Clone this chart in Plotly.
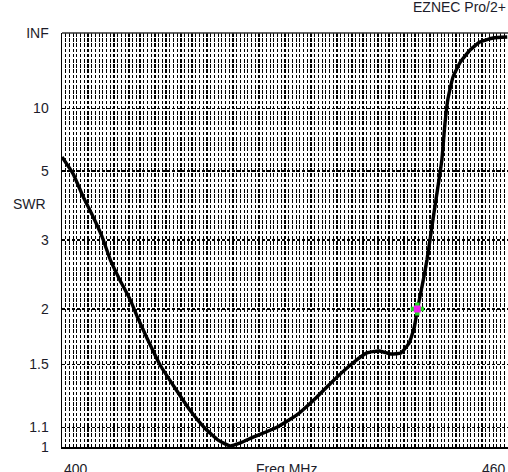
import plotly.graph_objects as go

# ---- data ----
freq_mhz = [400.0, 401.5, 402.8, 404.2, 405.4, 406.5, 407.8, 409.2, 410.2, 411.3,
            413.2, 415.2, 417.2, 419.2, 421.0, 422.6, 424.0, 425.8, 428.7, 431.6,
            434.3, 437.0, 439.3, 441.0, 442.7, 444.3, 445.6, 446.7, 447.4, 447.8,
            448.6, 449.1, 450.0, 451.1, 451.5, 451.9, 452.6, 453.6, 454.9, 456.2,
            458.0, 459.9]
swr = [5.68, 4.88, 4.08, 3.50, 3.06, 2.65, 2.35, 2.10, 1.905, 1.733,
       1.494, 1.332, 1.196, 1.096, 1.034, 1.005, 1.02, 1.05, 1.096, 1.168,
       1.275, 1.407, 1.517, 1.588, 1.604, 1.579, 1.588, 1.671, 1.816, 1.989,
       2.35, 2.65, 3.55, 5.52, 8.0, 11.4, 17.8, 27.6, 47.7, 91.0,
       164.0, 205.0]

marker_freq = [447.8]
marker_swr = [2.0]

swr_tick_values = [1.0, 1.1, 1.5, 2.0, 3.0, 5.0, 10.0, float("inf")]
swr_tick_labels = ["1", "1.1", "1.5", "2", "3", "5", "10", "INF"]

x_range = [400, 460]
x_tick_labels = ["400", "460"]
x_title = "Freq MHz"
y_title = "SWR"
program_label = "EZNEC Pro/2+"


def swr_scale(s):
    """EZNEC SWR axis: linear in reflection coefficient."""
    if s == float("inf"):
        return 1.0
    return (s - 1.0) / (s + 1.0)


rho = [swr_scale(s) for s in swr]
tick_rho = [swr_scale(s) for s in swr_tick_values]

FONT = "Liberation Sans, Arial, sans-serif"
TXT = "#1c1c2a"

fig = go.Figure()
fig.add_trace(go.Scatter(
    x=freq_mhz, y=rho, mode="lines",
    line=dict(color="black", width=3.4, shape="spline", smoothing=0.4),
    hoverinfo="skip", showlegend=False))
fig.add_trace(go.Scatter(
    x=marker_freq, y=[swr_scale(s) for s in marker_swr], mode="markers",
    marker=dict(symbol="cross", size=11, color="#22dd22", line=dict(width=0)),
    showlegend=False, hoverinfo="skip"))
fig.add_trace(go.Scatter(
    x=marker_freq, y=[swr_scale(s) for s in marker_swr], mode="markers",
    marker=dict(symbol="square", size=7, color="#ee22ee", line=dict(width=0)),
    showlegend=False, hoverinfo="skip"))

fig.update_xaxes(
    range=x_range, dtick=0.5, tick0=400,
    showgrid=True, gridcolor="#000000", gridwidth=1.2, griddash="3.6px,1.6px",
    showticklabels=False, ticks="", zeroline=False,
    showline=True, linecolor="black", linewidth=1.5)
fig.update_yaxes(
    range=[0, 1], tickmode="array", tickvals=tick_rho, ticktext=swr_tick_labels,
    showgrid=True, gridcolor="#000000", gridwidth=1.2, griddash="3px,2px",
    ticks="", ticklabelstandoff=9, zeroline=False,
    tickfont=dict(family=FONT, size=14, color=TXT),
    showline=True, linecolor="black", linewidth=1.5)

# top frame line
fig.add_shape(type="line", xref="paper", yref="paper", x0=0, x1=1, y0=1, y1=1,
              line=dict(color="#333333", width=1.5))

annotations = [
    dict(x=x_range[0], y=-0.028, xref="x", yref="paper", text=x_tick_labels[0],
         xanchor="left", yanchor="top", showarrow=False),
    dict(x=x_range[1], y=-0.028, xref="x", yref="paper", text=x_tick_labels[1],
         xanchor="right", yanchor="top", showarrow=False),
    dict(x=0.503, y=-0.028, xref="paper", yref="paper", text=x_title,
         xanchor="center", yanchor="top", showarrow=False),
    dict(x=-0.073, y=0.587, xref="paper", yref="paper", text=y_title,
         xanchor="center", yanchor="middle", showarrow=False),
    dict(x=1.0, y=1.062, xref="paper", yref="paper", text=program_label,
         xanchor="right", yanchor="middle", showarrow=False),
]
for a in annotations:
    a["font"] = dict(family=FONT, size=14, color=TXT)
fig.update_layout(annotations=annotations)

fig.update_layout(
    width=508, height=472,
    margin=dict(l=62, r=0, t=33, b=25),
    paper_bgcolor="white", plot_bgcolor="white",
    showlegend=False,
)

fig.write_html("out.html",
               config={"displayModeBar": False, "staticPlot": True},
               post_script="document.body.style.margin='0px';"
                           "document.body.style.overflow='hidden';")
